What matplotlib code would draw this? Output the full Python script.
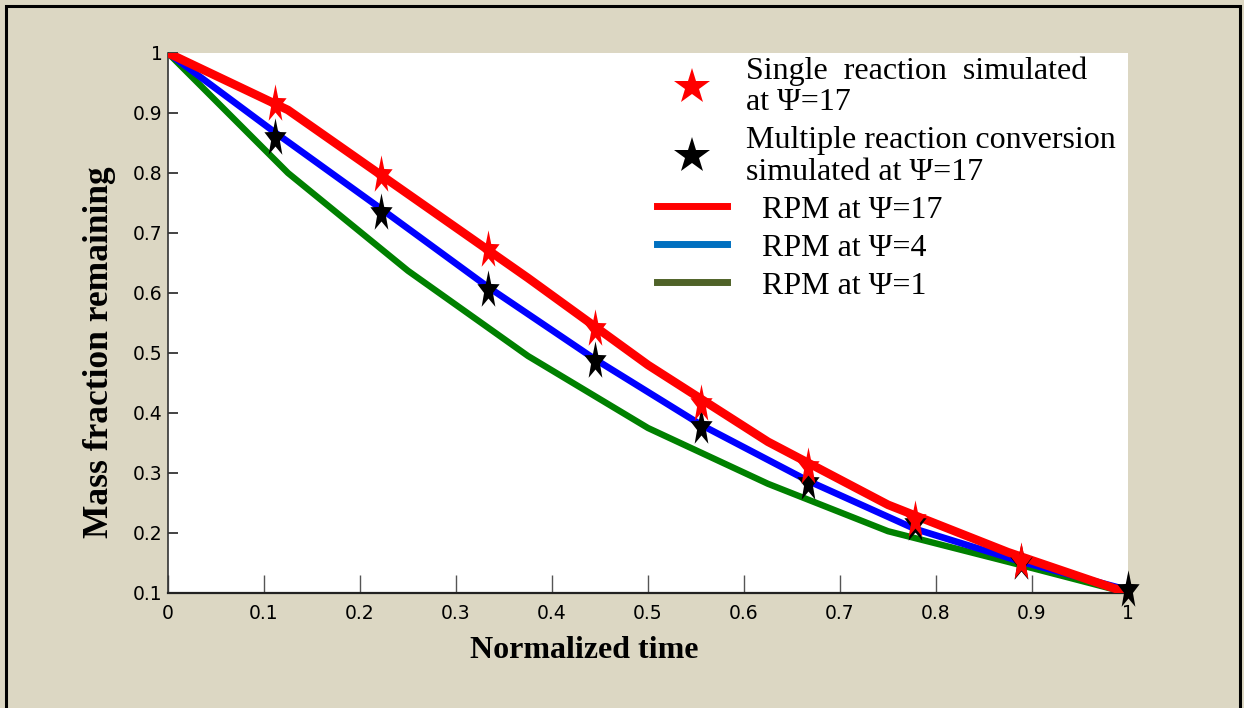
import numpy as np
import matplotlib
matplotlib.use("Agg")
import matplotlib.pyplot as plt
from matplotlib.path import Path
from matplotlib.lines import Line2D
from matplotlib.patches import Rectangle

# ---- data ----
t_sim = [1/9, 2/9, 3/9, 4/9, 5/9, 6/9, 7/9, 8/9, 1.0]
single_sim = [0.915, 0.797, 0.672, 0.540, 0.415, 0.310, 0.222, 0.152]
multi_sim = [0.858, 0.733, 0.605, 0.487, 0.377, 0.283, 0.215, 0.150, 0.105]

t_rpm17 = [0, 0.125, 0.25, 0.375, 0.5, 0.625, 0.75, 0.875, 1.0]
rpm17 = [1.0, 0.905, 0.765, 0.625, 0.480, 0.352, 0.247, 0.168, 0.100]

t_rpm4 = [0, 1/9, 2/9, 3/9, 4/9, 5/9, 6/9, 7/9, 8/9, 1.0]
rpm4 = [1.0, 0.868, 0.740, 0.610, 0.490, 0.380, 0.287, 0.207, 0.152, 0.105]

t_rpm1 = [0, 0.125, 0.25, 0.375, 0.5, 0.625, 0.75, 0.875, 1.0]
rpm1 = [1.0, 0.800, 0.637, 0.495, 0.375, 0.282, 0.203, 0.152, 0.100]

xticks = [0, 0.1, 0.2, 0.3, 0.4, 0.5, 0.6, 0.7, 0.8, 0.9, 1]
xticklabels = ["0", "0.1", "0.2", "0.3", "0.4", "0.5", "0.6", "0.7", "0.8", "0.9", "1"]
yticks = [0.1, 0.2, 0.3, 0.4, 0.5, 0.6, 0.7, 0.8, 0.9, 1]
yticklabels = ["0.1", "0.2", "0.3", "0.4", "0.5", "0.6", "0.7", "0.8", "0.9", "1"]

labels = ["Single  reaction  simulated\nat \u03a8=17",
          "Multiple reaction conversion\nsimulated at \u03a8=17",
          "  RPM at \u03a8=17",
          "  RPM at \u03a8=4",
          "  RPM at \u03a8=1"]

BG = "#DCD7C3"
W, H = 1244, 708

# stretched star marker (tall)
ang = np.pi / 2 + np.arange(10) * np.pi / 5
rad = np.where(np.arange(10) % 2 == 0, 1.0, 0.40)
verts = np.column_stack([rad * np.cos(ang) * 0.58, rad * np.sin(ang)])
verts = np.vstack([verts, verts[:1]])
codes = [Path.MOVETO] + [Path.LINETO] * 9 + [Path.CLOSEPOLY]
tall_star = Path(verts, codes)

fig = plt.figure(figsize=(W / 100, H / 100), dpi=100, facecolor=BG)
fig.patches.append(Rectangle((6 / W, -0.05), 1234 / W, 1 - 6 / H + 0.05,
                             transform=fig.transFigure, fill=False,
                             edgecolor="black", linewidth=2.2))

ax = fig.add_axes([168 / W, 1 - 593 / H, 960 / W, 540 / H])
ax.set_facecolor("white")

ax.plot(t_rpm1, rpm1, color="#008000", lw=4.6, solid_joinstyle="round", zorder=2)
ax.plot(t_rpm4, rpm4, color="#0000FF", lw=4.8, solid_joinstyle="round", zorder=3)
ax.plot(t_rpm17, rpm17, color="#FF0000", lw=6.2, solid_joinstyle="round", zorder=4)
ax.plot(t_sim, multi_sim, linestyle="none", marker=tall_star, markersize=29,
        color="black", markeredgewidth=0, zorder=5, clip_on=False)
ax.plot(t_sim[:len(single_sim)], single_sim, linestyle="none", marker=tall_star,
        markersize=29, color="#FF0000", markeredgewidth=0, zorder=6, clip_on=False)

ax.set_xlim(0, 1)
ax.set_ylim(0.1, 1)
ax.set_xticks(xticks)
ax.set_xticklabels(xticklabels)
ax.set_yticks(yticks)
ax.set_yticklabels(yticklabels)

for lab in ax.get_xticklabels() + ax.get_yticklabels():
    lab.set_fontfamily(["DejaVu Sans"])
    lab.set_fontsize(13.5)

ax.tick_params(axis="x", direction="in", length=13, width=1.0, color="#555555",
               pad=8, top=False)
ax.tick_params(axis="y", direction="in", length=7, width=1.2, color="#222222",
               pad=4, right=False)

for s in ["top", "right"]:
    ax.spines[s].set_visible(False)
ax.spines["left"].set_color("#333333")
ax.spines["left"].set_linewidth(1.2)
ax.spines["bottom"].set_color("#222222")
ax.spines["bottom"].set_linewidth(1.6)

ax.set_xlabel("Normalized time", fontfamily="Liberation Serif", fontweight="bold",
              fontsize=23)
ax.xaxis.set_label_coords(0.434, -0.107)
ax.xaxis.label.set_va("center")
ax.set_ylabel("Mass fraction remaining", fontfamily="Liberation Serif",
              fontweight="bold", fontsize=25.5)
ax.yaxis.set_label_coords(-0.071, 0.446)
ax.yaxis.label.set_va("center")

handles = [
    Line2D([], [], linestyle="none", marker="*", markersize=27, color="#FF0000",
           markeredgewidth=0),
    Line2D([], [], linestyle="none", marker="*", markersize=27, color="black",
           markeredgewidth=0),
    Line2D([], [], color="#FF0000", lw=5),
    Line2D([], [], color="#0070C0", lw=5),
    Line2D([], [], color="#4F6228", lw=5),
]
leg = ax.legend(handles, labels, loc="upper left", bbox_to_anchor=(0.509, 0.994),
                frameon=False, prop=dict(family="Liberation Serif", size=23),
                handlelength=2.2, handletextpad=0.6, labelspacing=0.27,
                borderaxespad=0, borderpad=0)
leg.set_zorder(10)
for txt in leg.get_texts():
    txt.set_linespacing(1.12)

fig.savefig("out.png", dpi=100, facecolor=BG)
